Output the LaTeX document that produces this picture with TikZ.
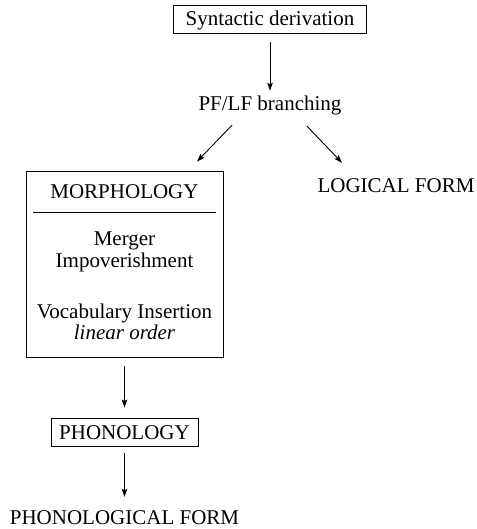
\documentclass[tikz,border=0pt]{standalone}
\usepackage{fontspec}
\setmainfont{Liberation Serif}
\usepackage{tikz}
\usetikzlibrary{positioning, arrows.meta, calc}

\begin{document}
\begin{tikzpicture}[x=1pt, y=-1pt,
          every node/.style={font=\fontsize{21}{25}\selectfont},
          lbl/.style={inner sep=0pt, text height=14pt, text depth=0pt},
          framed/.style={lbl, draw, line width=0.9pt, minimum height=28pt},
          arr/.style={-{Stealth[length=8pt, width=5.5pt, inset=1.5pt]}, line width=0.9pt}
        ]
        \useasboundingbox (0,0) rectangle (476,529);

        % Derivation
        \node[framed, minimum width=193pt] (syn) at (270,19) {Syntactic derivation};
        \node[lbl] (pflf) at (270,104) {PF/LF branching};

        % Branches
        \node[draw, line width=0.9pt, minimum width=197pt, minimum height=186pt,
              inner sep=0pt] (morph) at (124.5,264) {};
        \node[lbl] (lf) at (396,186) {LOGICAL FORM};

        % Inside the morphology box
        \node[lbl] (mhead) at (124.5,192) {MORPHOLOGY};
        \draw[line width=0.9pt] ([xshift=7pt, yshift=-42pt]morph.north west)
              -- ([xshift=-7pt, yshift=-42pt]morph.north east);
        \node[lbl] (merger) at (124.5,238) {Merger};
        \node[lbl] (impov)  at (124.5,260) {Impoverishment};
        \node[lbl] (vocab)  at (124.5,311) {Vocabulary Insertion};
        \node[lbl] (linord) at (124.5,332) {\itshape linear order};

        % Phonology
        \node[framed, minimum width=147pt] (phon) at (124.5,432) {PHONOLOGY};
        \node[lbl] (pf) at (124.5,517.5) {PHONOLOGICAL FORM};

        % Arrows
        \draw[arr, shorten <=9pt, shorten >=6pt] (syn) -- (pflf);
        \draw[arr] ([xshift=-38pt, yshift=-14pt]pflf.south)
              -- ([xshift=72.5pt, yshift=9pt]morph.north);
        \draw[arr] ([xshift=37pt, yshift=-15pt]pflf.south)
              -- ([xshift=-54pt, yshift=16pt]lf.north);
        \draw[arr, shorten <=9pt, shorten >=10pt] (morph) -- (phon);
        \draw[arr, shorten <=7pt, shorten >=13.5pt] (phon) -- (pf);
      \end{tikzpicture}
\end{document}
